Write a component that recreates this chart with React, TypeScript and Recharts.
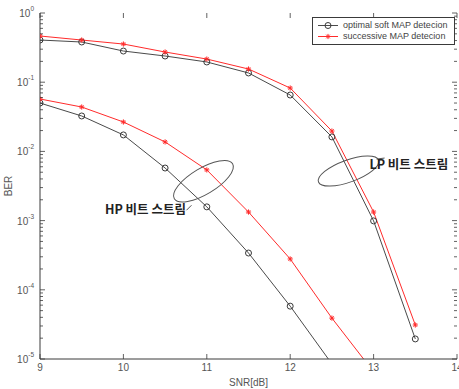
import React from "react";
import { LineChart, Line, XAxis, YAxis, Legend, ReferenceDot, Label } from "recharts";

// SNR points [dB]
const snr = [9, 9.5, 10, 10.5, 11, 11.5, 12, 12.5, 13, 13.5];
// BER (LP = low priority bit stream, HP = high priority)
const lpOptimal = [0.407, 0.381, 0.282, 0.239, 0.196, 0.136, 0.0653, 0.0162, 0.00099, 1.95e-5];
const lpSuccessive = [0.465, 0.407, 0.356, 0.273, 0.216, 0.155, 0.0824, 0.0197, 0.00133, 3.1e-5];
const hpOptimal = [0.05, 0.0325, 0.0173, 0.00575, 0.00158, 3.4e-4, 5.8e-5, 8.5e-6, null, null];
const hpSuccessive = [0.0572, 0.0438, 0.0266, 0.0137, 0.0054, 0.00133, 2.79e-4, 3.9e-5, 6.5e-6, null];

const xTicks = [9, 10, 11, 12, 13, 14];
const yDecades = [1e-5, 1e-4, 1e-3, 1e-2, 1e-1, 1];

const seriesNames = ["optimal soft MAP detecion", "successive MAP detecion"];
const annotationText = ["HP 비트 스트림", "LP 비트 스트림"];

const data = snr.map((x, i) => ({
  snr: x,
  lpOpt: lpOptimal[i],
  lpSuc: lpSuccessive[i],
  hpOpt: hpOptimal[i],
  hpSuc: hpSuccessive[i],
}));

// all y ticks: decades plus 2..9 minor ticks
const yTicks: number[] = [];
yDecades.forEach((d, i) => {
  yTicks.push(d);
  if (i < yDecades.length - 1) {
    for (let m = 2; m <= 9; m++) yTicks.push(d * m);
  }
});

const W = 459;
const H = 389;
const PLOT = { left: 40, right: 457, top: 13, bottom: 359 };
const BLACK = "#3a3a3a";
const LINE_GRAY = "#4a4a4a";
const RED = "#ff2b2b";
const FONT = "'Liberation Sans', Arial, sans-serif";

const YTick = (props: any) => {
  const { y, payload } = props;
  const lg = Math.log10(payload.value);
  const exp = Math.round(lg);
  const major = Math.abs(lg - exp) < 1e-6;
  const len = major ? 5 : 3;
  return (
    <g>
      <line x1={PLOT.left} x2={PLOT.left + len} y1={y} y2={y} stroke={BLACK} strokeWidth={0.8} />
      <line x1={PLOT.right - len} x2={PLOT.right} y1={y} y2={y} stroke={BLACK} strokeWidth={0.8} />
      {major && (
        <text x={PLOT.left - 6} y={y + 4} textAnchor="end" fontSize={10} fill="#555" fontFamily={FONT}>
          10
          <tspan dy={-6} fontSize={6.5}>{exp}</tspan>
        </text>
      )}
    </g>
  );
};

const XTick = (props: any) => {
  const { x, payload } = props;
  return (
    <g>
      <line x1={x} x2={x} y1={PLOT.bottom} y2={PLOT.bottom - 5} stroke={BLACK} strokeWidth={0.8} />
      <line x1={x} x2={x} y1={PLOT.top} y2={PLOT.top + 5} stroke={BLACK} strokeWidth={0.8} />
      <text x={x} y={PLOT.bottom + 12} textAnchor="middle" fontSize={10} fill="#555" fontFamily={FONT}>
        {payload.value}
      </text>
    </g>
  );
};

const StarDot = (props: any) => {
  const { cx, cy } = props;
  if (cx == null || cy == null) return <g />;
  const s = 2.6;
  return (
    <g stroke={RED} strokeWidth={1}>
      <line x1={cx - s} x2={cx + s} y1={cy} y2={cy} />
      <line x1={cx} x2={cx} y1={cy - s} y2={cy + s} />
      <line x1={cx - s * 0.7} x2={cx + s * 0.7} y1={cy - s * 0.7} y2={cy + s * 0.7} />
      <line x1={cx - s * 0.7} x2={cx + s * 0.7} y1={cy + s * 0.7} y2={cy - s * 0.7} />
    </g>
  );
};

const CircleDot = (props: any) => {
  const { cx, cy } = props;
  if (cx == null || cy == null) return <g />;
  return <circle cx={cx} cy={cy} r={3} fill="none" stroke={BLACK} strokeWidth={1} />;
};

const LegendBox = () => (
  <div
    style={{
      border: `1px solid ${BLACK}`,
      background: "#fff",
      padding: "2px 4px",
      fontFamily: FONT,
      fontSize: 9,
      lineHeight: "11px",
      color: "#444",
    }}
  >
    {seriesNames.map((name, i) => (
      <div key={name} style={{ display: "flex", alignItems: "center" }}>
        <svg width={22} height={11} style={{ marginRight: 4 }}>
          <line x1={1} x2={21} y1={5.5} y2={5.5} stroke={i === 0 ? LINE_GRAY : RED} />
          {i === 0 ? <CircleDot cx={11} cy={5.5} /> : <StarDot cx={11} cy={5.5} />}
        </svg>
        <span>{name}</span>
      </div>
    ))}
  </div>
);

const ellipseShape = (rx: number, ry: number, rot: number, tail: string) => (props: any) => {
  const { cx, cy } = props;
  return (
    <g fill="none" stroke="#555" strokeWidth={1}>
      <ellipse cx={cx} cy={cy} rx={rx} ry={ry} transform={`rotate(${rot} ${cx} ${cy})`} />
      <path d={`M${cx} ${cy} ${tail}`} />
    </g>
  );
};

const textShape = (text: string, anchor: "start" | "end") => (props: any) => {
  const { cx, cy } = props;
  return (
    <text
      x={cx}
      y={cy + 4}
      textAnchor={anchor}
      fontSize={12.5}
      fontWeight="bold"
      fill="#222"
      fontFamily="'Noto Sans CJK KR', sans-serif"
    >
      {text}
    </text>
  );
};

export default function App() {
  return (
    <div style={{ position: "absolute", left: 0, top: 0, width: W, height: H, background: "#fff" }}>
      <LineChart width={W} height={H} data={data} margin={{ top: PLOT.top, right: W - PLOT.right, bottom: 0, left: 0 }}>
        <XAxis
          dataKey="snr"
          type="number"
          domain={[9, 14]}
          ticks={xTicks}
          interval={0}
          height={H - PLOT.bottom}
          allowDataOverflow
          tick={<XTick />}
          tickLine={false}
          axisLine={{ stroke: BLACK }}
        >
          <Label value="SNR[dB]" position="insideBottom" offset={3} fontSize={10} fill="#555" fontFamily={FONT} />
        </XAxis>
        <XAxis xAxisId="top" orientation="top" type="number" domain={[9, 14]} height={0} tick={false} tickLine={false} axisLine={{ stroke: BLACK }} />
        <YAxis
          scale="log"
          type="number"
          domain={[1e-5, 1]}
          ticks={yTicks}
          interval={0}
          width={PLOT.left}
          allowDataOverflow
          tick={<YTick />}
          tickLine={false}
          axisLine={{ stroke: BLACK }}
        >
          <Label
            content={(p: any) => {
              const vb = p.viewBox;
              const cx = vb.x + 12;
              const cy = vb.y + vb.height / 2;
              return (
                <text x={cx} y={cy} transform={`rotate(-90 ${cx} ${cy})`} textAnchor="middle" fontSize={10} fill="#555" fontFamily={FONT}>
                  BER
                </text>
              );
            }}
          />
        </YAxis>
        <YAxis yAxisId="right" orientation="right" scale="log" type="number" domain={[1e-5, 1]} width={0} tick={false} tickLine={false} axisLine={{ stroke: BLACK }} />

        <Line dataKey="lpOpt" name={seriesNames[0]} stroke={LINE_GRAY} strokeWidth={1} dot={<CircleDot />} isAnimationActive={false} />
        <Line dataKey="lpSuc" name={seriesNames[1]} stroke={RED} strokeWidth={1} dot={<StarDot />} isAnimationActive={false} />
        <Line dataKey="hpOpt" name={seriesNames[0]} legendType="none" stroke={LINE_GRAY} strokeWidth={1} dot={<CircleDot />} isAnimationActive={false} />
        <Line dataKey="hpSuc" name={seriesNames[1]} legendType="none" stroke={RED} strokeWidth={1} dot={<StarDot />} isAnimationActive={false} />

        <ReferenceDot x={10.96} y={0.0037} shape={ellipseShape(34, 13, -31, "m-12 24 l-5 5")} />
        <ReferenceDot x={10.75} y={0.00142} shape={textShape(annotationText[0], "end")} />
        <ReferenceDot x={12.7} y={0.0052} shape={ellipseShape(32, 11, -20, "m28 -12 l8 -1")} />
        <ReferenceDot x={12.95} y={0.0063} shape={textShape(annotationText[1], "start")} />

        <Legend
          layout="vertical"
          align="center"
          verticalAlign="middle"
          content={<LegendBox />}
          wrapperStyle={{ left: 312, top: 17, width: 143 }}
        />
      </LineChart>
    </div>
  );
}
